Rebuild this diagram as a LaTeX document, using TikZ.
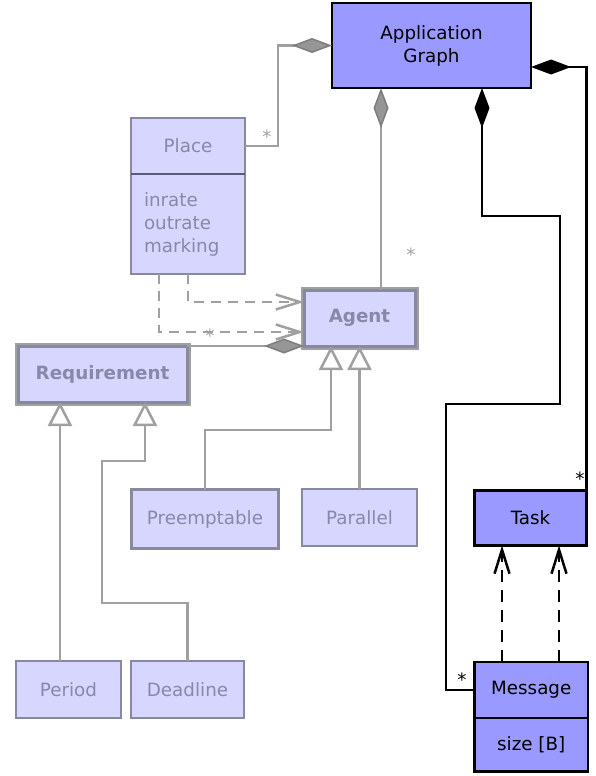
\documentclass[tikz,border=0pt]{standalone}
\usepackage{fontspec}
\setmainfont{DejaVu Sans}
\usetikzlibrary{arrows.meta,calc}
\definecolor{appblue}{RGB}{153,153,255}
\definecolor{pale}{RGB}{214,214,255}
\definecolor{fadetext}{RGB}{136,136,170}
\definecolor{fadeborder}{RGB}{136,136,160}
\definecolor{graylink}{RGB}{160,160,160}
\definecolor{diafill}{RGB}{150,150,150}
\definecolor{diaborder}{RGB}{125,125,125}
\definecolor{divider}{RGB}{90,90,120}
\begin{document}
\begin{tikzpicture}[x=1pt,y=-1pt,
  every node/.style={font=\fontsize{18.3}{23}\selectfont, inner sep=0pt, outer sep=0pt},
  solidcls/.style={draw=black, line width=2.5pt, fill=appblue, text=black, align=center},
  fadecls/.style={draw=fadeborder, line width=2.2pt, fill=pale, text=fadetext, align=center},
  boldcls/.style={draw=fadeborder, line width=3pt, fill=pale, text=fadetext, align=center,
    font=\fontsize{18.3}{23}\selectfont\bfseries, preaction={draw=graylink, line width=7pt}},
  glink/.style={draw=graylink, line width=2.5pt},
  blink/.style={draw=black, line width=2.5pt},
  gdash/.style={glink, dash pattern=on 10pt off 7pt},
  bdash/.style={blink, dash pattern=on 12pt off 8pt},
  gdia/.style={-{Diamond[length=40pt,width=15pt,fill=diafill,color=diaborder,line width=1.5pt]}},
  bdia/.style={-{Diamond[length=40pt,width=15pt,fill=black]}},
  gtri/.style={-{Triangle[open,length=24pt,width=24pt,fill=white,line width=2.5pt]}},
  barb/.style={-{Straight Barb[length=24pt,width=15pt,line width=2.5pt]}},
  glab/.style={text=graylink, anchor=base},
  blab/.style={text=black, anchor=base}
]
\useasboundingbox[fill=white] (0,0) rectangle (596,776);

% classes
\node[solidcls, minimum width=199pt, minimum height=85pt] (app) at (431.5,45.5) {Application\\Graph};
\node[fadecls, minimum width=114pt, minimum height=56pt] (placeH) at (188,146) {Place};
\node[fadecls, minimum width=114pt, minimum height=100pt, align=left, text width=88pt] (placeA) at (188,224) {inrate\\outrate\\marking};
\draw[divider, line width=2.5pt] (placeH.south west) -- (placeH.south east);
\node[boldcls, minimum width=111pt, minimum height=56pt] (agent) at (359.5,318) {Agent};
\node[boldcls, minimum width=169pt, minimum height=56pt] (req) at (102.5,374) {Requirement};
\node[fadecls, minimum width=147pt, minimum height=59pt] (preempt) at (205,519) {Preemptable};
\node[fadecls, minimum width=115pt, minimum height=57pt] (parallel) at (359.5,517.5) {Parallel};
\node[fadecls, minimum width=105pt, minimum height=57pt] (period) at (68.5,689.5) {Period};
\node[fadecls, minimum width=113pt, minimum height=57pt] (deadline) at (187.5,689.5) {Deadline};
\node[solidcls, minimum width=112pt, minimum height=55pt] (task) at (530.5,518) {Task};
\node[solidcls, minimum width=113.5pt, minimum height=56pt] (msg) at (531.25,690) {Message};
\node[solidcls, minimum width=113.5pt, minimum height=53.5pt] (size) at (531.25,744.75) {size [B]};

% helper coordinates
\coordinate (xa) at (381,0);
\coordinate (xm) at (482,0);

% gray connectors
\draw[glink, gdia] (placeH.east) -- ++(33,0) |- (app.west);
\draw[glink, gdia] (agent.north -| xa) -- (app.south -| xa);
\draw[gdash, barb] (placeA.south -| 188,0) |- (agent.west |- 0,302);
\draw[gdash, barb] (placeA.south -| 159,0) |- (agent.west |- 0,332);
\draw[glink, gdia] (req.north east) -- (agent.south west);
\draw[glink, gtri] (preempt.north) -- (preempt.north |- 0,430) -| (agent.south -| 331,0);
\draw[glink, gtri] (parallel.north) -- (agent.south);
\draw[glink, gtri] (period.north -| 60,0) -- (req.south -| 60,0);
\draw[glink, gtri] (deadline.north) -- (deadline.north |- 0,603) -| (102,461) -| (req.south -| 145,0);

% black connectors
\draw[blink, bdia] (task.north east) |- (app.east |- 0,67);
\draw[blink, bdia] (msg.west) -| (446,404) -| (560,216) -| (app.south -| xm);
\draw[bdash, barb] (msg.north -| 502,0) -- (task.south -| 502,0);
\draw[bdash, barb] (msg.north -| 559,0) -- (task.south -| 559,0);

% multiplicities
\node[glab] (m1) at (267,143.5) {*};
\node[glab] (m2) at (411,261) {*};
\node[glab] (m3) at (210,342.5) {*};
\node[blab] (m4) at (580,485.5) {*};
\node[blab] (m5) at (462,686) {*};
\end{tikzpicture}
\end{document}
